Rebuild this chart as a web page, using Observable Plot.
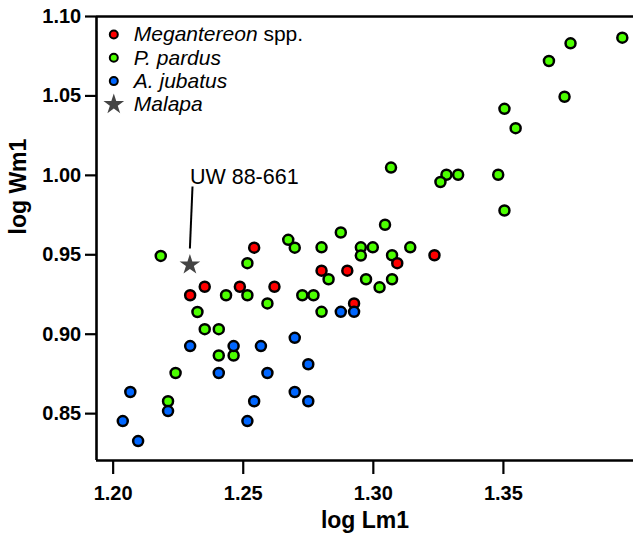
<!DOCTYPE html>
<html><head><meta charset="utf-8">
<script src="https://cdn.jsdelivr.net/npm/d3@7"></script>
<script src="https://cdn.jsdelivr.net/npm/@observablehq/plot@0.6"></script>
<style>
body{margin:0;background:#fff;}
svg{font-family:"Liberation Sans",Arial,sans-serif;}
[aria-label$="tick label"] text{font-weight:bold;}
</style></head><body><div id="chart"></div>
<script>
// Megantereon spp.
const meganX = [1.2542,1.2296,1.2352,1.2487,1.2620,1.2801,1.2900,1.2926,1.3092,1.3235];
const meganY = [0.9545,0.9245,0.9299,0.9299,0.9299,0.9400,0.9400,0.9194,0.9447,0.9497];
// P. pardus
const pardusX = [1.2183,1.2516,1.2673,1.2698,1.2434,1.2516,1.2727,1.2770,1.2593,1.2324,1.2352,1.2406,1.2406,1.2463,1.2240,1.2211,1.2801,1.2875,1.3045,1.2952,1.2998,1.2952,1.3142,1.3072,1.2828,1.2972,1.3072,1.3024,1.2801,1.3068,1.3957,1.3758,1.3675,1.3735,1.3504,1.3547,1.3281,1.3326,1.3258,1.3480,1.3504];
const pardusY = [0.9493,0.9447,0.9594,0.9545,0.9245,0.9245,0.9245,0.9245,0.9194,0.9140,0.9032,0.9032,0.8866,0.8866,0.8756,0.8578,0.9547,0.9640,0.9689,0.9547,0.9547,0.9495,0.9547,0.9497,0.9346,0.9346,0.9346,0.9295,0.9141,1.0049,1.0867,1.0831,1.0720,1.0495,1.0419,1.0297,1.0004,1.0004,0.9958,1.0004,0.9779];
// A. jubatus
const jubatusX = [1.2296,1.2463,1.2568,1.2698,1.2406,1.2593,1.2750,1.2066,1.2211,1.2542,1.2698,1.2750,1.2037,1.2516,1.2096,1.2875,1.2926];
const jubatusY = [0.8925,0.8925,0.8925,0.8977,0.8756,0.8756,0.8811,0.8636,0.8516,0.8578,0.8636,0.8578,0.8453,0.8453,0.8327,0.9141,0.9141];
// Malapa
const malapaX = [1.2295];
const malapaY = [0.9437];
const malapaLabel = ["UW 88-661"];
const labelX = [1.2295], labelY = [0.999];
const leader = [{x1:1.2305, y1:0.993, x2:1.2295, y2:0.954}];

const xTicks = [1.20,1.25,1.30,1.35];
const yTicks = [0.85,0.90,0.95,1.00,1.05,1.10];
const xDomain = [1.1936,1.40];
const yDomain = [0.8205,1.10];

const groupNames = ["Megantereon spp.","P. pardus","A. jubatus","Malapa"];
const groupColors = ["#ff0000","#4cff00","#0066ff","#444444"];

const toPts = (xs, ys) => xs.map((x,i)=>({x, y:ys[i]}));
const megan = toPts(meganX, meganY);
const pardus = toPts(pardusX, pardusY);
const jubatus = toPts(jubatusX, jubatusY);
const malapa = toPts(malapaX, malapaY);

const FONT = "Liberation Sans, Arial, sans-serif";
const legendMarks = groupNames.flatMap((name,i)=>{
  const dy = 18 + i*23.3;
  const sym = i===3
    ? Plot.dot([name], {frameAnchor:"top-left", dx:17.3, dy, symbol:"star", r:6.5, fill:groupColors[i]})
    : Plot.dot([name], {frameAnchor:"top-left", dx:17.3, dy, r:4, fill:groupColors[i], stroke:"black", strokeWidth:2});
  return [sym, Plot.text([name], {frameAnchor:"top-left", dx:37.3, dy, text:d=>d, textAnchor:"start", lineAnchor:"middle", fontSize:21, fontStyle:"italic", fill:"black"})];
});

const chart = Plot.plot({
  width:633, height:534,
  marginLeft:96, marginRight:0, marginTop:16, marginBottom:74,
  style:{fontFamily:FONT, background:"white", overflow:"visible"},
  x:{domain:xDomain},
  y:{domain:yDomain},
  marks:[
    Plot.axisX({ticks:xTicks, tickFormat:d=>d.toFixed(2), tickSize:14, tickPadding:11, fontSize:20, fontWeight:"bold", strokeWidth:2.2, label:null}),
    Plot.axisY({ticks:yTicks, tickFormat:d=>d.toFixed(2), tickSize:11, tickPadding:4.3, fontSize:20, fontWeight:"bold", strokeWidth:2.2, label:null}),
    Plot.ruleX([xDomain[0]], {strokeWidth:2.6}),
    Plot.ruleY([yDomain[0]], {strokeWidth:2.6}),
    Plot.ruleY([yDomain[1]], {strokeWidth:2.6}),
    Plot.text(["log Lm1"], {frameAnchor:"bottom", dy:67, text:d=>d, fontSize:23, fontWeight:"bold", fill:"black"}),
    Plot.text(["log Wm1"], {frameAnchor:"left", dx:-78, dy:-4, rotate:-90, text:d=>d, fontSize:23, fontWeight:"bold", fill:"black"}),
    Plot.dot(pardus, {x:"x", y:"y", r:5, fill:groupColors[1], stroke:"black", strokeWidth:2.5}),
    Plot.dot(megan, {x:"x", y:"y", r:5, fill:groupColors[0], stroke:"black", strokeWidth:2.5}),
    Plot.dot(jubatus, {x:"x", y:"y", r:5, fill:groupColors[2], stroke:"black", strokeWidth:2.5}),
    Plot.link(leader, {x1:"x1", y1:"y1", x2:"x2", y2:"y2", stroke:"black", strokeWidth:2}),
    Plot.dot(malapa, {x:"x", y:"y", symbol:"star", r:6.5, fill:groupColors[3]}),
    Plot.text(malapaLabel, {x:labelX, y:labelY, text:d=>d, textAnchor:"start", lineAnchor:"middle", fontSize:21.5, fill:"black"}),
    ...legendMarks
  ]
});
document.getElementById("chart").appendChild(chart);
// mixed italic / upright legend label
d3.select(chart).selectAll("text").each(function(){
  if (this.textContent === "Megantereon spp.") {
    const t = d3.select(this);
    t.text(null).attr("font-style","normal");
    t.append("tspan").attr("font-style","italic").text("Megantereon");
    t.append("tspan").text(" spp.");
  }
});
</script></body></html>
